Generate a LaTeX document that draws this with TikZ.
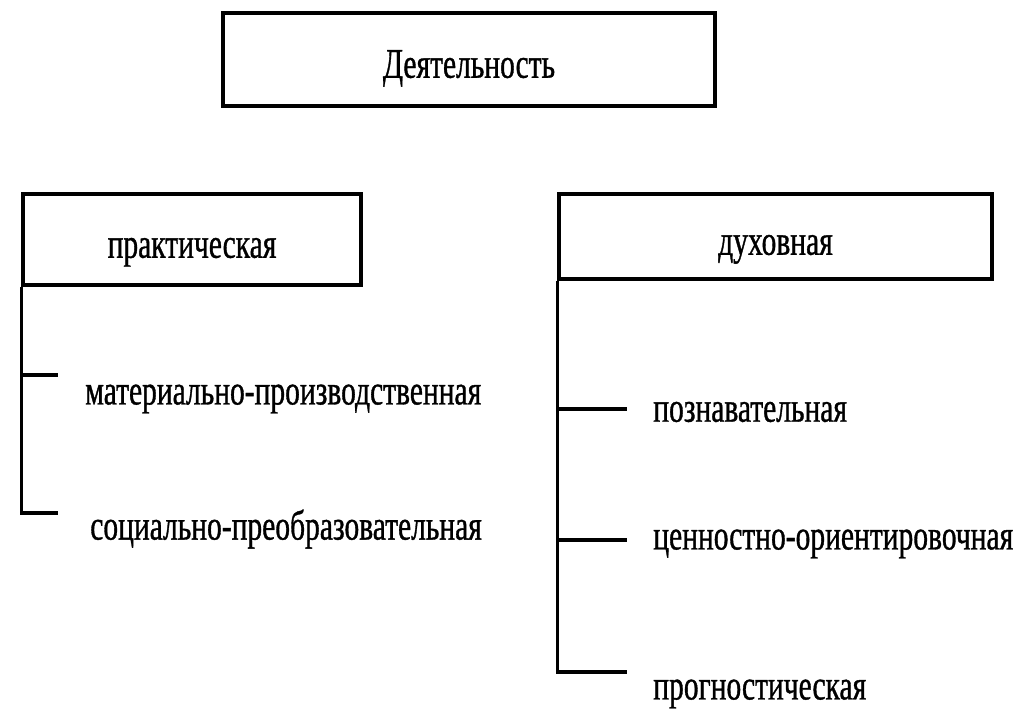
\documentclass[tikz,border=0pt]{standalone}
\usepackage{fontspec}
\setmainfont[FakeStretch=0.7,FakeBold=0.8]{Liberation Serif}
\usetikzlibrary{positioning}
\tikzset{
  kind/.style={draw,line width=2.2pt,inner sep=0pt,text height=26pt,text depth=0pt,
    font=\fontsize{30}{36}\selectfont},
  item/.style={anchor=west,inner sep=0pt,font=\fontsize{30}{36}\selectfont},
  tie/.style={line width=2.2pt}
}
\begin{document}
\begin{tikzpicture}
 \useasboundingbox (0,0) rectangle (25.4,18.175);
 % boxes
 \node[kind,minimum width=12.3cm,minimum height=2.325cm] (act) at (11.725,16.6875) {Деятельность};
 \node[kind,minimum width=8.45cm,minimum height=2.275cm] (prak) at (4.8,12.1875) {практическая};
 \node[kind,minimum width=10.825cm,minimum height=2.125cm] (duh) at (19.3875,12.2625) {духовная};
 % kinds of activity
 \node[item] (mat) at (2.125,8.2) {материально-производственная};
 \node[item] (soc) at (2.25,4.95) {социально-преобразовательная};
 \node[item] (pozn) at (16.325,7.875) {познавательная};
 \node[item] (cenn) at (16.325,4.575) {ценностно-ориентировочная};
 \node[item] (prog) at (16.325,0.825) {прогностическая};
 % ends of the ticks
 \coordinate (mat-e) at (1.45,8.8);
 \coordinate (soc-e) at (1.45,5.35);
 \coordinate (pozn-e) at (15.675,7.95);
 \coordinate (cenn-e) at (15.675,4.675);
 \coordinate (prog-e) at (15.675,1.375);
 \draw[tie] (prak.south west) |- (mat-e);
 \draw[tie] (prak.south west) |- (soc-e);
 \draw[tie] (duh.south west) |- (pozn-e);
 \draw[tie] (duh.south west) |- (cenn-e);
 \draw[tie] (duh.south west) |- (prog-e);
\end{tikzpicture}
\end{document}
